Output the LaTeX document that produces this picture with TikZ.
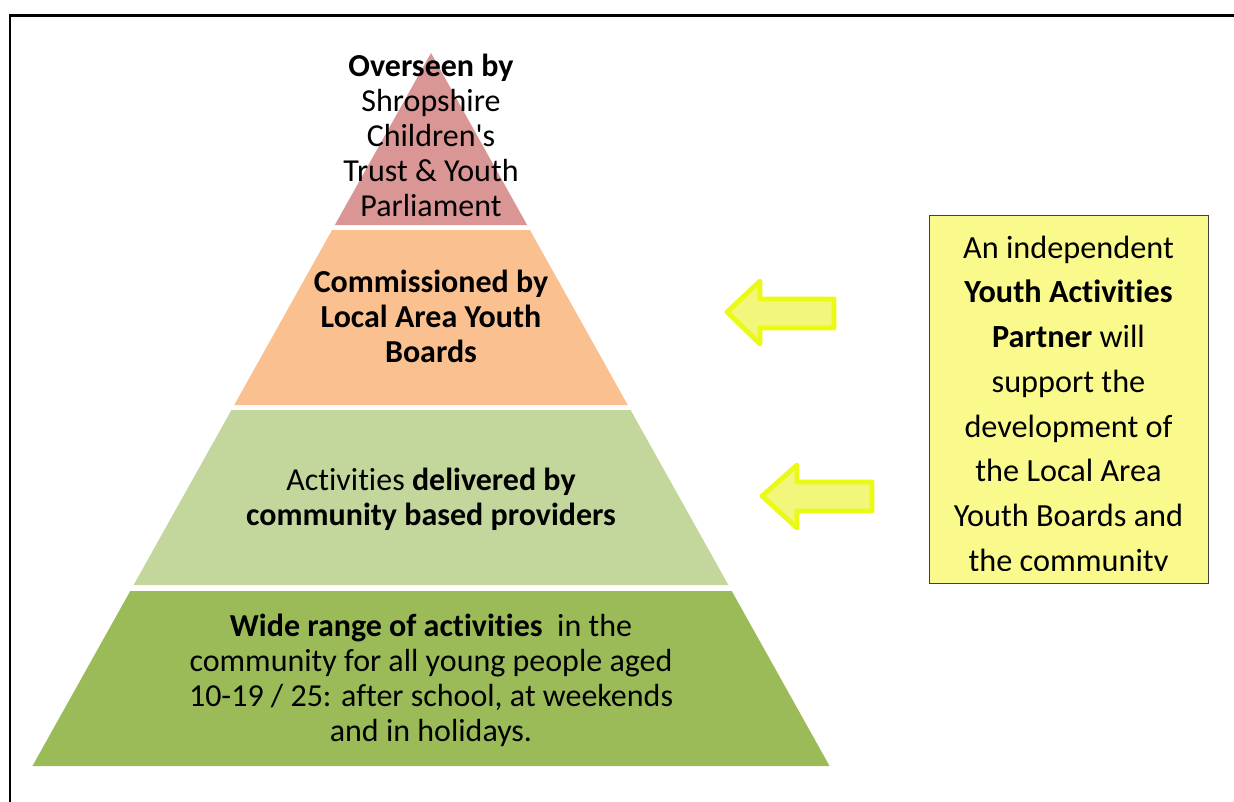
\documentclass[tikz,border=0pt]{standalone}
\usepackage{fontspec}
\setmainfont{Carlito}[Ligatures={NoCommon}]
\definecolor{layA}{RGB}{217,150,148}
\definecolor{layB}{RGB}{250,192,144}
\definecolor{layC}{RGB}{195,214,155}
\definecolor{layD}{RGB}{155,187,89}
\definecolor{boxfill}{RGB}{250,250,140}
\definecolor{arrowline}{RGB}{234,250,20}
\definecolor{arrowfill}{RGB}{242,246,122}
\begin{document}
\begin{tikzpicture}[x=0.75pt,y=-0.75pt,
  pyrtext/.style={align=center, font=\fontsize{24}{26.25}\selectfont, inner sep=0pt, anchor=north},
  boxtext/.style={align=center, font=\fontsize{24.2}{33.55}\selectfont, inner sep=0pt, anchor=north},
  bigarrow/.style={draw=arrowline, fill=arrowfill, line width=3.6pt, line join=round}]
\useasboundingbox (0,0) rectangle (1234,801);
% frame
\draw[line width=1.9pt] (10,805) -- (10,15.5) -- (1240,15.5);
% pyramid layers
\def\cx{431}\def\ap{53}\def\sl{0.559}
\fill[layA] (\cx,\ap) -- ({\cx+\sl*(225-\ap)},225) -- ({\cx-\sl*(225-\ap)},225) -- cycle;
\fill[layB] ({\cx-\sl*(230-\ap)},230) -- ({\cx+\sl*(230-\ap)},230) -- ({\cx+\sl*(405-\ap)},405) -- ({\cx-\sl*(405-\ap)},405) -- cycle;
\fill[layC] ({\cx-\sl*(410-\ap)},410) -- ({\cx+\sl*(410-\ap)},410) -- ({\cx+\sl*(585-\ap)},585) -- ({\cx-\sl*(585-\ap)},585) -- cycle;
\fill[layD] ({\cx-\sl*(591-\ap)},591) -- ({\cx+\sl*(591-\ap)},591) -- ({\cx+\sl*(766-\ap)},766) -- ({\cx-\sl*(766-\ap)},766) -- cycle;
% pyramid texts
\node[pyrtext] (t1) at (431,54) {\textbf{Overseen by}\\Shropshire\\Children\textquotesingle s\\Trust \& Youth\\Parliament};
\node[pyrtext] (t2) at (431,270) {\textbf{Commissioned by}\\\textbf{Local Area Youth}\\\textbf{Boards}};
\node[pyrtext] (t3) at (431,468) {Activities \textbf{delivered by}\\\textbf{community based providers}};
\node[pyrtext] (t4) at (431,614) {\textbf{Wide range of activities}\ \ in the\\community for all young people aged\\10-19 / 25: after school, at weekends\\and in holidays.};
% arrows
\draw[bigarrow] (727,312) -- (760,281) -- (760,299) -- (834,299) -- (834,328) -- (760,328) -- (760,344) -- cycle;
\draw[bigarrow] (762,496) -- (797,465) -- (797,482) -- (872,482) -- (872,511) -- (797,511) -- (797,528) -- cycle;
% partner box
\node[draw=black!75, fill=boxfill, line width=0.9pt, inner sep=0pt, anchor=north west, minimum width=209.25pt, minimum height=276pt] (pbox) at (929,215) {};
\begin{scope}
\clip (929,215) rectangle (1208,570);
\node[boxtext] (ptext) at (1068.5,235.5) {An independent\\\textbf{Youth Activities}\\\textbf{Partner} will\\support the\\development of\\the Local Area\\Youth Boards and\\the community};
\end{scope}
\end{tikzpicture}
\end{document}
